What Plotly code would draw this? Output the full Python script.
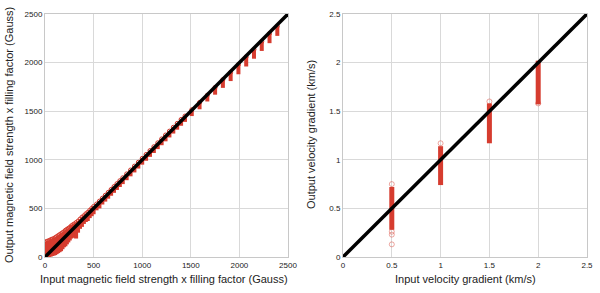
import plotly.graph_objects as go

# ---------------- Left panel data (magnetic field x filling factor) ----------------
# Each cluster: input value, lowest and highest retrieved output value (Gauss)
b_in = [0, 15, 30, 45, 60, 75, 90, 105, 120, 135, 150, 165, 180, 195, 210, 225,
        240, 255, 270, 285, 300, 320, 340, 360, 380, 400, 420, 440, 460, 480,
        500, 530, 560, 590, 620, 650, 680, 710, 740, 770, 800, 840, 880, 920,
        960, 1000, 1040, 1080, 1120, 1160, 1200, 1240, 1280, 1320, 1360, 1400,
        1440, 1510, 1590, 1670, 1750, 1830, 1910, 1990, 2070, 2150, 2230, 2310, 2390]
b_lo = [0, 0, 0, 0, 5, 10, 15, 20, 30, 40, 50, 60, 80, 100, 110, 130,
        150, 170, 190, 200, 200, 190, 250, 290, 310, 340, 360, 370, 400, 420,
        440, 480, 500, 540, 570, 600, 630, 660, 690, 720, 750, 790, 830, 870,
        910, 950, 990, 1030, 1070, 1110, 1150, 1190, 1230, 1270, 1310, 1350,
        1390, 1450, 1520, 1600, 1670, 1740, 1810, 1880, 1960, 2040, 2120, 2200, 2275]
b_hi = [150, 160, 165, 170, 180, 185, 190, 200, 210, 220, 230, 240, 250, 260, 275, 285,
        295, 305, 320, 330, 340, 355, 370, 390, 410, 425, 445, 460, 480, 500,
        520, 545, 575, 605, 635, 665, 695, 725, 755, 785, 815, 855, 895, 935,
        975, 1015, 1055, 1095, 1135, 1175, 1215, 1255, 1295, 1335, 1375, 1415,
        1450, 1515, 1590, 1665, 1745, 1825, 1900, 1980, 2060, 2135, 2215, 2300, 2375]

# ---------------- Right panel data (velocity gradient) ----------------
v_in = [0.5, 1.0, 1.5, 2.0]
v_lo = [0.28, 0.74, 1.17, 1.57]
v_hi = [0.72, 1.14, 1.58, 2.02]
# isolated outlier retrievals (open circles)
v_out_x = [0.5, 0.5, 0.5, 0.5, 1.0, 1.5, 2.0]
v_out_y = [0.75, 0.26, 0.23, 0.13, 1.17, 1.60, 1.58]

# ---------------- Axis definitions ----------------
left_ticks = [0, 500, 1000, 1500, 2000, 2500]
right_ticks = [0, 0.5, 1, 1.5, 2, 2.5]
left_range = [0, 2500]
right_range = [0, 2.5]

RED = "#d63c2f"
GRID = "#d9d9d9"
FONT = "Liberation Sans, Arial, sans-serif"

fig = go.Figure()

# Left clusters as vertical bands
lx, ly = [], []
for x, lo, hi in zip(b_in, b_lo, b_hi):
    lx += [x, x, None]
    ly += [lo, hi, None]
fig.add_trace(go.Scatter(x=lx, y=ly, mode="lines", line=dict(color=RED, width=4),
                         xaxis="x", yaxis="y", hoverinfo="skip", showlegend=False))
fig.add_trace(go.Scatter(x=b_in, y=b_hi, mode="markers",
                         marker=dict(symbol="circle-open", size=4, color=RED, line=dict(width=1)),
                         xaxis="x", yaxis="y", showlegend=False))
fig.add_trace(go.Scatter(x=left_range, y=left_range, mode="lines",
                         line=dict(color="black", width=3.5),
                         xaxis="x", yaxis="y", showlegend=False))

# Right clusters
rx, ry = [], []
for x, lo, hi in zip(v_in, v_lo, v_hi):
    rx += [x, x, None]
    ry += [lo, hi, None]
fig.add_trace(go.Scatter(x=rx, y=ry, mode="lines", line=dict(color=RED, width=5),
                         xaxis="x2", yaxis="y2", hoverinfo="skip", showlegend=False))
fig.add_trace(go.Scatter(x=v_out_x, y=v_out_y, mode="markers",
                         marker=dict(symbol="circle-open", size=5, color="rgba(214,60,47,0.45)",
                                     line=dict(width=1)),
                         xaxis="x2", yaxis="y2", showlegend=False))
fig.add_trace(go.Scatter(x=right_range, y=right_range, mode="lines",
                         line=dict(color="black", width=3.5),
                         xaxis="x2", yaxis="y2", showlegend=False))

axis_common = dict(showgrid=True, gridcolor=GRID, gridwidth=1, zeroline=False,
                   showline=True, linecolor="#c8c8c8", linewidth=1, mirror=True,
                   ticks="", automargin=False,
                   tickfont=dict(family=FONT, size=8, color="#222222"))

W, H = 600, 293
mt = 14
mb = H - 257
ph = H - mt - mb

def px_x(p):
    return p / W

def ann(text, px, py, angle=0):
    # px, py: page pixels from left / top
    return dict(text=text, x=px_x(px), y=(H - py - mb) / ph, xref="paper", yref="paper",
                xanchor="center", yanchor="middle", showarrow=False, textangle=angle,
                font=dict(family=FONT, size=11, color="#222222"))

fig.update_layout(
    width=W, height=H,
    paper_bgcolor="white", plot_bgcolor="white",
    margin=dict(l=0, r=0, t=mt, b=mb, autoexpand=False),
    showlegend=False,
    xaxis=dict(domain=[px_x(45), px_x(288)], range=left_range, tickvals=left_ticks,
               anchor="y", **axis_common),
    yaxis=dict(domain=[0, 1], range=left_range, tickvals=left_ticks,
               anchor="x", **axis_common),
    xaxis2=dict(domain=[px_x(343), px_x(587)], range=right_range, tickvals=right_ticks,
                anchor="y2", **axis_common),
    yaxis2=dict(domain=[0, 1], range=right_range, tickvals=right_ticks,
                anchor="x2", **axis_common),
    annotations=[
        ann("Input magnetic field strength x filling factor (Gauss)", 164, 279),
        ann("Output magnetic field strength x filling factor (Gauss)", 9, 135, -90),
        ann("Input velocity gradient (km/s)", 465, 279),
        ann("Output velocity gradient (km/s)", 311, 135, -90),
    ],
)

fig.write_html("out.html", config={"displayModeBar": False},
               post_script="document.body.style.margin='0';document.body.style.overflow='hidden';")
